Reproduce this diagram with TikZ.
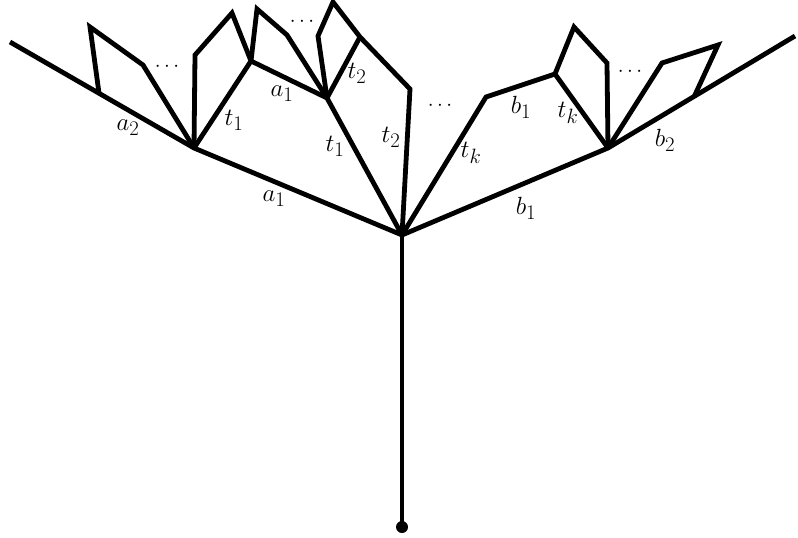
\documentclass[tikz,border=0pt]{standalone}
\begin{document}
\begin{tikzpicture}[x=1pt,y=-1pt,
  edge/.style={line width=4.8pt,line join=miter,line cap=butt},
  lab/.style={inner sep=0pt,font=\fontsize{30}{32}\selectfont},
  dotsl/.style={inner sep=0pt,font=\fontsize{21}{24}\selectfont}]
\useasboundingbox (0,0) rectangle (798,538);
% vertices
\coordinate (R) at (402,235);
\coordinate (B) at (402,527);
\coordinate (L1) at (194,148);
\coordinate (LE) at (10,42);
\coordinate (LA) at (99,93);
\coordinate (Q1a) at (90,27);
\coordinate (Q1b) at (143,65);
\coordinate (L1u) at (195,55);
\coordinate (L1t) at (232,13);
\coordinate (M) at (251,61);
\coordinate (Mu) at (257,9);
\coordinate (Mv) at (287,35);
\coordinate (P) at (327,98);
\coordinate (Pu) at (318,36);
\coordinate (Pt) at (333,2);
\coordinate (Pv) at (360,37);
\coordinate (S) at (410,89);
\coordinate (Ra) at (486,97);
\coordinate (Rb) at (555,74);
\coordinate (RQ) at (608,148);
\coordinate (Rbu) at (574,27);
\coordinate (Rbv) at (607,63);
\coordinate (RQu) at (662,63);
\coordinate (RQt) at (718,45);
\coordinate (RA) at (694,97);
\coordinate (RE) at (795,36);
% edges
\draw[edge] (R) -- (B);
\fill (B) circle (6);
\draw[edge] (R) -- (L1) -- (LE);
\draw[edge] (LA) -- (Q1a) -- (Q1b) -- (L1);
\draw[edge] (L1) -- (M);
\draw[edge] (L1) -- (L1u) -- (L1t) -- (M);
\draw[edge] (M) -- (P);
\draw[edge] (M) -- (Mu) -- (Mv) -- (P);
\draw[edge] (P) -- (R);
\draw[edge] (P) -- (Pv);
\draw[edge] (P) -- (Pu) -- (Pt) -- (Pv) -- (S) -- (R);
\draw[edge] (R) -- (Ra) -- (Rb) -- (RQ);
\draw[edge] (R) -- (RQ) -- (RE);
\draw[edge] (Rb) -- (Rbu) -- (Rbv) -- (RQ);
\draw[edge] (RQ) -- (RQu) -- (RQt) -- (RA);
% labels
\node[lab] (la2) at (128,128) {$a_2$};
\node[lab] (lt1u) at (234,120) {$t_1$};
\node[lab] (la1u) at (282,94) {$a_1$};
\node[lab] (lt2u) at (357,73) {$t_2$};
\node[lab] (lt1m) at (335,146) {$t_1$};
\node[lab] (lt2m) at (391,137) {$t_2$};
\node[lab] (ltkm) at (471,153) {$t_k$};
\node[lab] (lb1u) at (521,107) {$b_1$};
\node[lab] (ltku) at (568,113) {$t_k$};
\node[lab] (lb2) at (665,140) {$b_2$};
\node[lab] (la1l) at (274,199) {$a_1$};
\node[lab] (lb1l) at (526,208) {$b_1$};
% dots
\node[dotsl] (d1) at (167,67) {$\cdots$};
\node[dotsl] (d2) at (302,22) {$\cdots$};
\node[dotsl] (d3) at (440,106) {$\cdots$};
\node[dotsl] (d4) at (630,72) {$\cdots$};
\end{tikzpicture}
\end{document}
